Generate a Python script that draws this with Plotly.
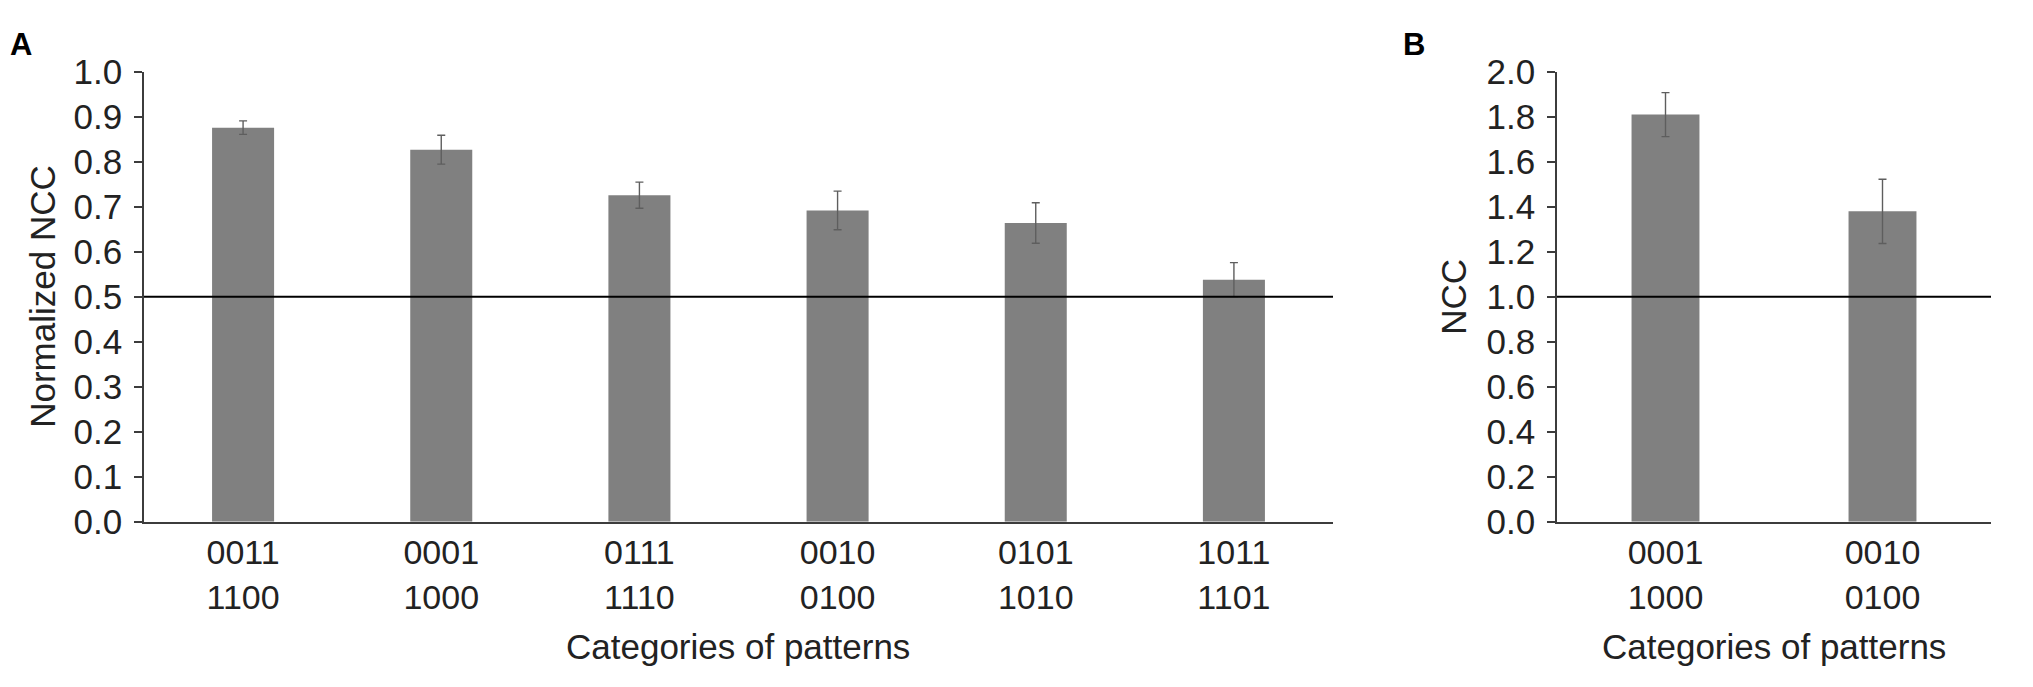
import plotly.graph_objects as go

# panel A: normalized NCC per pattern category
cats_a = ["0011<br>1100", "0001<br>1000", "0111<br>1110",
          "0010<br>0100", "0101<br>1010", "1011<br>1101"]
ncc_norm = [0.876, 0.827, 0.726, 0.692, 0.664, 0.538]
ncc_norm_err = [0.015, 0.032, 0.029, 0.043, 0.045, 0.038]

# panel B: raw NCC
cats_b = ["0001<br>1000", "0010<br>0100"]
ncc = [1.81, 1.38]
ncc_err = [0.098, 0.143]

W, H = 2033, 687
FONT = "Liberation Sans, Arial, sans-serif"
bar_col = "#808080"
axis_col = "#3c3c3c"
err_col = "#5e5e5e"

fig = go.Figure()

fig.add_trace(go.Bar(
    x=cats_a, y=ncc_norm, xaxis="x", yaxis="y",
    marker=dict(color=bar_col, line=dict(width=0)),
    error_y=dict(type="data", array=ncc_norm_err, color=err_col,
                 thickness=1.4, width=4),
    showlegend=False,
))
fig.add_trace(go.Bar(
    x=cats_b, y=ncc, xaxis="x2", yaxis="y2",
    marker=dict(color=bar_col, line=dict(width=0)),
    error_y=dict(type="data", array=ncc_err, color=err_col,
                 thickness=1.4, width=4),
    showlegend=False,
))

# pixel helpers (figure is laid out in absolute pixels)
def px(x):
    return x / W

def py(y):
    return 1 - y / H

top, bottom = 55, 532

xcommon = dict(showline=True, linecolor=axis_col, linewidth=1.6, ticks="",
               showgrid=False, zeroline=False, fixedrange=True,
               tickfont=dict(family=FONT, size=34, color="#222222"),
               ticklabelstandoff=0)
ycommon = dict(showline=True, linecolor=axis_col, linewidth=1.6,
               ticks="outside", ticklen=8, tickwidth=1.5, tickcolor=axis_col,
               showgrid=False, zeroline=False, fixedrange=True,
               tickfont=dict(family=FONT, size=35, color="#222222"),
               ticklabelstandoff=5)

fig.update_layout(
    width=W, height=H,
    margin=dict(l=0, r=0, t=0, b=0),
    plot_bgcolor="white", paper_bgcolor="white",
    bargap=0.687,
    xaxis=dict(domain=[px(144), px(1333)], anchor="y", **xcommon),
    yaxis=dict(domain=[py(bottom), py(top)], anchor="x", range=[0, 1.0],
               tickvals=[i / 10 for i in range(11)], tickformat=".1f",
               **ycommon),
    xaxis2=dict(domain=[px(1557), px(1991)], anchor="y2", **xcommon),
    yaxis2=dict(domain=[py(bottom), py(top)], anchor="x2", range=[0, 2.0],
                tickvals=[i / 5 for i in range(11)], tickformat=".1f",
                **ycommon),
)

# reference lines at chance level
fig.add_shape(type="line", xref="x domain", yref="y", x0=0, x1=1, y0=0.5, y1=0.5,
              line=dict(color="black", width=2))
fig.add_shape(type="line", xref="x2 domain", yref="y2", x0=0, x1=1, y0=1.0, y1=1.0,
              line=dict(color="black", width=2))

title_font = dict(family=FONT, size=35, color="#222222")
ann = [
    dict(text="<b>A</b>", x=px(8), y=py(26), xanchor="left", yanchor="middle",
         font=dict(family=FONT, size=31, color="black")),
    dict(text="<b>B</b>", x=px(1401), y=py(26), xanchor="left", yanchor="middle",
         font=dict(family=FONT, size=31, color="black")),
    dict(text="Normalized NCC", x=px(43), y=py((top + bottom) / 2), textangle=-90,
         xanchor="center", yanchor="middle", font=title_font),
    dict(text="NCC", x=px(1454), y=py((top + bottom) / 2), textangle=-90,
         xanchor="center", yanchor="middle", font=title_font),
    dict(text="Categories of patterns", x=px(738), y=py(664),
         xanchor="center", yanchor="middle", font=title_font),
    dict(text="Categories of patterns", x=px(1774), y=py(664),
         xanchor="center", yanchor="middle", font=title_font),
]
for a in ann:
    fig.add_annotation(xref="paper", yref="paper", showarrow=False, **a)

# drop the default page margin so the figure sits at the window corner
fig.write_html("out.html", config={"displayModeBar": False},
               post_script="document.body.style.margin='0';"
                           "document.body.style.overflow='hidden';")
